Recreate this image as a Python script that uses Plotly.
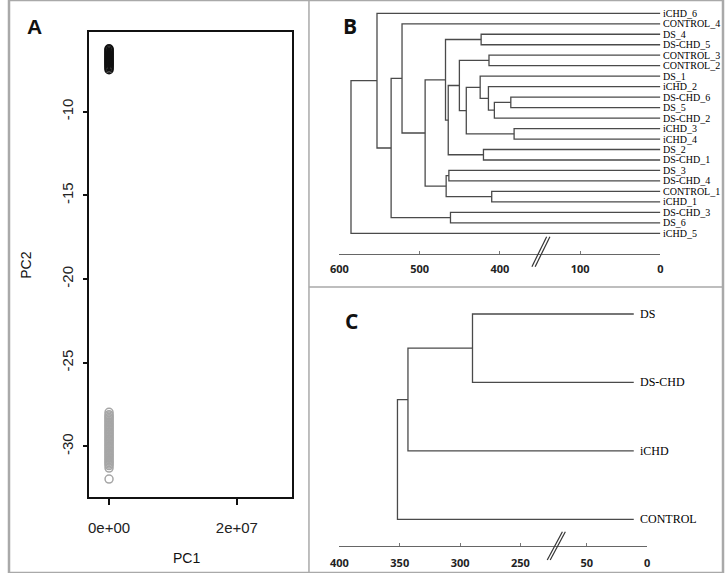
import plotly.graph_objects as go

W, H = 726, 573

# ---------------- Panel A data (PCA scores) ----------------
grp1_pc1 = [0, 0, 0, 0, 0, 0, 0, 0, 0, 0, 0, 0, 0, 0, 0, 0, 0, 0, 0, 0]
grp1_pc2 = [-6.24, -6.30, -6.38, -6.45, -6.50, -6.57, -6.63, -6.70, -6.76, -6.82,
            -6.88, -6.94, -7.00, -7.06, -7.12, -7.18, -7.25, -7.32, -7.40, -7.49]
grp2_pc1 = [0, 0, 0, 0, 0, 0, 0, 0, 0, 0, 0, 0, 0, 0, 0, 0, 0, 0, 0, 0,
            0, 0, 0, 0, 0, 0, 0, 0, 0, 0, 0, 0, 0, 0, 0, 0, 0, 0, 0, 0]
grp2_pc2 = [-27.96, -28.10, -28.18, -28.27, -28.35, -28.44, -28.52, -28.61, -28.70, -28.78,
            -28.86, -28.95, -29.03, -29.12, -29.20, -29.28, -29.37, -29.45, -29.54, -29.62,
            -29.70, -29.79, -29.87, -29.96, -30.04, -30.12, -30.21, -30.29, -30.38, -30.46,
            -30.54, -30.63, -30.71, -30.80, -30.88, -30.96, -31.05, -31.14, -31.29, -31.95]
a_xticks = [0, 2e7]
a_xticklabels = ["0e+00", "2e+07"]
a_yticks = [-10, -15, -20, -25, -30]
a_yticklabels = ["-10", "-15", "-20", "-25", "-30"]

# ---------------- Panel B data (sample dendrogram) ----------------
b_leaves = ["iCHD_6", "CONTROL_4", "DS_4", "DS-CHD_5", "CONTROL_3", "CONTROL_2", "DS_1",
            "iCHD_2", "DS-CHD_6", "DS_5", "DS-CHD_2", "iCHD_3", "iCHD_4", "DS_2",
            "DS-CHD_1", "DS_3", "DS-CHD_4", "CONTROL_1", "iCHD_1", "DS-CHD_3", "DS_6", "iCHD_5"]
b_node_names = ["H", "L", "R", "Q", "P", "N", "O", "M", "J", "K", "I", "F",
                "S", "T", "G", "E", "C", "D", "B", "A", "ROOT"]
b_node_left = ["DS_4", "CONTROL_3", "DS-CHD_6", "R", "iCHD_2", "DS_1", "iCHD_3", "N", "L", "DS_2",
               "J", "H", "DS_3", "CONTROL_1", "S", "F", "CONTROL_4", "DS-CHD_3", "C", "iCHD_6", "A"]
b_node_right = ["DS-CHD_5", "CONTROL_2", "DS_5", "DS-CHD_2", "Q", "P", "iCHD_4", "O", "M", "DS-CHD_1",
                "K", "I", "DS-CHD_4", "iCHD_1", "T", "G", "E", "DS_6", "D", "B", "iCHD_5"]
b_node_height = [423.4, 413.6, 386.4, 406.9, 414.3, 424.6, 382.3, 441.9, 450.5, 420.5,
                 464.4, 467.8, 463.6, 410.2, 467.0, 493.2, 522.0, 461.6, 535.6, 553.2, 585.6]
b_leaf_height = 0
b_tick_values = [600, 500, 400, 100, 0]

# ---------------- Panel C data (group dendrogram) ----------------
c_leaves = ["DS", "DS-CHD", "iCHD", "CONTROL"]
c_node_names = ["X1", "X2", "X3"]
c_node_left = ["DS", "X1", "X2"]
c_node_right = ["DS-CHD", "iCHD", "CONTROL"]
c_node_height = [289.7, 343.2, 351.9]
c_leaf_height = 11
c_tick_values = [400, 350, 300, 250, 50, 0]


# broken-axis transforms (value -> displayed axis coordinate)
def b_disp(v):
    return v if v >= 300 else v + 200


def c_disp(v):
    return v if v >= 200 else v + 145


def dendro_path(leaves, names, left, right, heights, leaf_h, disp):
    pos = {n: (leaf_h, i) for i, n in enumerate(leaves)}
    xs, ys = [], []
    for n, l, r, h in zip(names, left, right, heights):
        hl, yl = pos[l]
        hr, yr = pos[r]
        xs += [disp(hl), disp(h), disp(h), disp(hr), None]
        ys += [yl, yl, yr, yr, None]
        pos[n] = (h, (yl + yr) / 2)
    return xs, ys


def px(x):
    return x / W


def py(y):
    return 1 - y / H


fig = go.Figure()

# Panel A
fig.add_trace(go.Scatter(x=grp1_pc1, y=grp1_pc2, mode="markers", xaxis="x", yaxis="y",
                         marker=dict(symbol="circle-open", size=8, color="#111111", line=dict(width=1.5))))
fig.add_trace(go.Scatter(x=grp2_pc1, y=grp2_pc2, mode="markers", xaxis="x", yaxis="y",
                         marker=dict(symbol="circle-open", size=8, color="#a6a6a6", line=dict(width=1.5))))

LINE_C = "#4a4a4a"
# Panel B
bx, by = dendro_path(b_leaves, b_node_names, b_node_left, b_node_right, b_node_height, b_leaf_height, b_disp)
fig.add_trace(go.Scatter(x=bx, y=by, mode="lines", xaxis="x2", yaxis="y2",
                         line=dict(color=LINE_C, width=1.3), hoverinfo="skip"))
# Panel C
cx, cy = dendro_path(c_leaves, c_node_names, c_node_left, c_node_right, c_node_height, c_leaf_height, c_disp)
fig.add_trace(go.Scatter(x=cx, y=cy, mode="lines", xaxis="x3", yaxis="y3",
                         line=dict(color=LINE_C, width=1.3), hoverinfo="skip"))

annotations = []
for i, name in enumerate(b_leaves):
    annotations.append(dict(x=b_disp(b_leaf_height), y=i, xref="x2", yref="y2", text=name, showarrow=False,
                            xanchor="left", yanchor="middle", xshift=1,
                            font=dict(family="Liberation Serif", size=10, color="#000000")))
for i, name in enumerate(c_leaves):
    annotations.append(dict(x=c_disp(c_leaf_height), y=i, xref="x3", yref="y3", text=name, showarrow=False,
                            xanchor="left", yanchor="middle", xshift=4,
                            font=dict(family="Liberation Serif", size=12, color="#000000")))


def paper_text(x, y, text, size, family, angle=0):
    return dict(x=px(x), y=py(y), xref="paper", yref="paper", text=text, showarrow=False,
                xanchor="center", yanchor="middle", textangle=angle,
                font=dict(family=family, size=size, color="#111"))


# panel letters & axis titles
annotations += [
    paper_text(25.5, 26, "<b>A</b>", 21, "Liberation Sans"),
    paper_text(346.5, 26, "<b>B</b>", 21, "Open Sans"),
    paper_text(348, 320.5, "<b>C</b>", 21, "Open Sans"),
    paper_text(180, 558, "PC1", 14, "Liberation Sans"),
    paper_text(17, 265, "PC2", 14, "Liberation Sans", -90),
]

BORDER = "#a9a9a9"
shapes = [
    dict(type="rect", xref="paper", yref="paper", x0=0, y0=0, x1=1, y1=1,
         line=dict(color=BORDER, width=2.5)),
    dict(type="line", xref="paper", yref="paper", x0=px(305), x1=px(305), y0=0, y1=1,
         line=dict(color=BORDER, width=1.5)),
    dict(type="line", xref="paper", yref="paper", x0=px(305), x1=1, y0=py(287), y1=py(287),
         line=dict(color=BORDER, width=1.5)),
]
# axis-break marks
for dx in (0, 3.3):
    shapes.append(dict(type="line", xref="paper", yref="paper",
                       x0=px(531.7 + dx), y0=py(266.7), x1=px(546.7 + dx), y1=py(236.7),
                       line=dict(color="#333", width=1.2)))
for dx in (0, 3.0):
    shapes.append(dict(type="line", xref="paper", yref="paper",
                       x0=px(547.3 + dx), y0=py(560), x1=px(562.7 + dx), y1=py(531.7),
                       line=dict(color="#333", width=1.2)))

tickfont_bc = dict(family="Open Sans", size=11, color="#222", weight="bold")

fig.update_layout(
    width=W, height=H, margin=dict(l=0, r=0, t=0, b=0),
    paper_bgcolor="white", plot_bgcolor="white", showlegend=False,
    annotations=annotations, shapes=shapes,
    xaxis=dict(domain=[px(81.7), px(287.3)], range=[-3.08e6, 2.855e7], anchor="y",
               tickvals=a_xticks, ticktext=a_xticklabels, ticks="outside", ticklen=6, tickwidth=1.5,
               tickcolor="#111", showline=True, mirror=True, linecolor="#111", linewidth=1.6,
               showgrid=False, zeroline=False, ticklabelstandoff=10,
               tickfont=dict(family="Liberation Sans", size=15, color="#222")),
    yaxis=dict(domain=[py(496.7), py(31.7)], range=[-33.0, -5.22], anchor="x",
               tickvals=a_yticks, ticktext=a_yticklabels, tickangle=-90, ticks="outside", ticklen=5,
               tickwidth=1.5, tickcolor="#111", showline=True, mirror=True, linecolor="#111",
               linewidth=1.6, showgrid=False, zeroline=False, ticklabelstandoff=4,
               tickfont=dict(family="Liberation Sans", size=15, color="#222")),
    xaxis2=dict(domain=[px(336), px(662.3)], range=[600, 200], anchor="y2",
                tickvals=[b_disp(v) for v in b_tick_values], ticktext=[str(v) for v in b_tick_values],
                ticks="inside", ticklen=3, tickcolor="#777", showline=True, linecolor="#666", linewidth=1.2,
                showgrid=False, zeroline=False, ticklabelstandoff=4, tickfont=tickfont_bc),
    yaxis2=dict(domain=[py(254.3), py(3)], range=[23.0, -0.983], visible=False, anchor="x2"),
    xaxis3=dict(domain=[px(336), px(649)], range=[400, 144.8], anchor="y3",
                tickvals=[c_disp(v) for v in c_tick_values], ticktext=[str(v) for v in c_tick_values],
                ticks="inside", ticklen=3, tickcolor="#777", showline=True, linecolor="#666", linewidth=1.2,
                showgrid=False, zeroline=False, ticklabelstandoff=7, tickfont=tickfont_bc),
    yaxis3=dict(domain=[py(545.7), py(293)], range=[3.386, -0.307], visible=False, anchor="x3"),
)

fig.write_html("out.html", config={"displayModeBar": False},
               post_script="document.body.style.margin='0px';document.body.style.overflow='hidden';")
